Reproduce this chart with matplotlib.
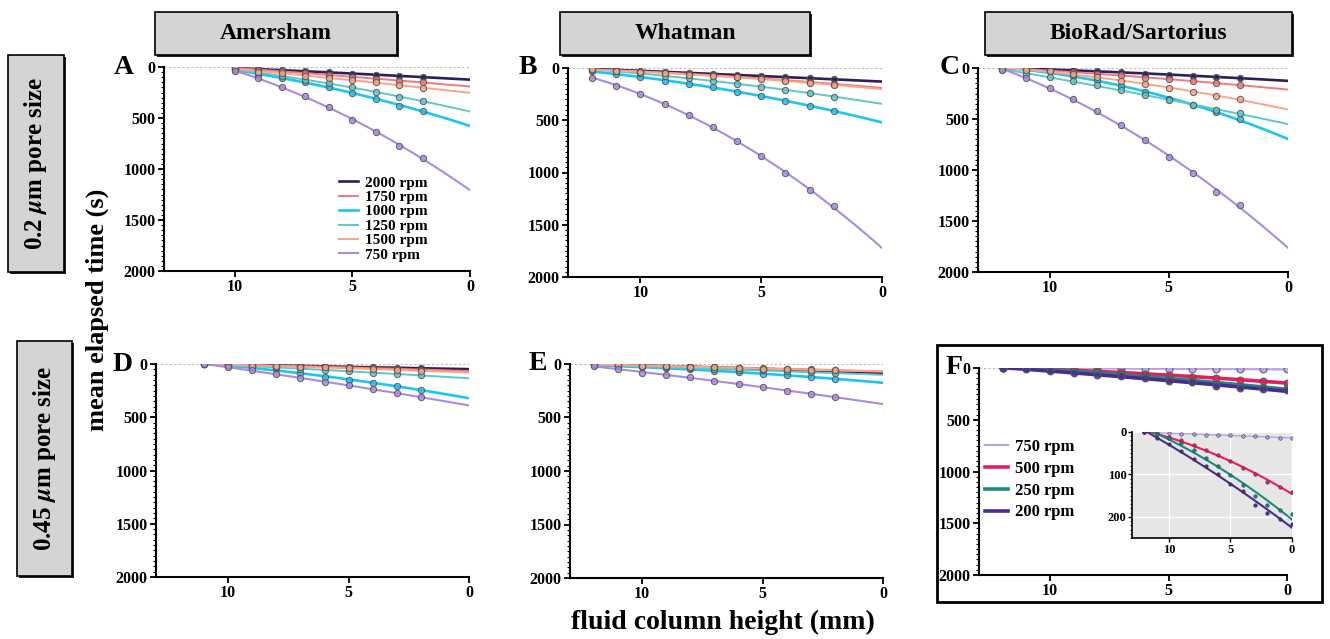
import numpy as np
import matplotlib.pyplot as plt
from matplotlib.patches import Rectangle
from matplotlib.ticker import MultipleLocator

plt.rcParams['font.family'] = ['Liberation Serif', 'DejaVu Serif']
plt.rcParams['font.weight'] = 'bold'
plt.rcParams['mathtext.fontset'] = 'stix'

W, H = 1330, 639

# series for panels A-E (legend order)
rpm_main = ['2000 rpm', '1750 rpm', '1000 rpm', '1250 rpm', '1500 rpm', '750 rpm']
col_main = ['#2d1e5c', '#f47a7a', '#1ec4f2', '#5ec8c8', '#fba586', '#a98be3']
lw_main = [1.9, 1.4, 1.9, 1.4, 1.4, 1.5]

# A: Amersham, 0.2 um
h_A = [10, 9, 8, 7, 6, 5, 4, 3, 2]
A_2000 = [10, 20, 33, 42, 52, 65, 75, 85, 101]
A_1750 = [10, 26, 42, 59, 75, 98, 118, 134, 150]
A_1000 = [26, 75, 108, 150, 196, 255, 314, 379, 432]
A_1250 = [20, 59, 92, 124, 157, 200, 245, 294, 334]
A_1500 = [13, 46, 59, 85, 108, 131, 150, 177, 206]
A_750 = [42, 108, 196, 288, 396, 517, 638, 772, 893]

# B: Whatman, 0.2 um
h_B = [12, 11, 10, 9, 8, 7, 6, 5, 4, 3, 2]
B_2000 = [10, 16, 25, 38, 48, 57, 67, 76, 86, 99, 108]
B_1750 = [10, 22, 35, 45, 57, 70, 83, 99, 114, 134, 153]
B_1000 = [32, 57, 89, 121, 153, 184, 226, 264, 312, 366, 410]
B_1250 = [19, 25, 51, 80, 95, 127, 153, 178, 210, 239, 273]
B_1500 = [13, 25, 38, 51, 64, 76, 89, 105, 121, 140, 165]
B_750 = [95, 169, 245, 343, 448, 569, 700, 846, 1008, 1170, 1323]

# C: BioRad/Sartorius, 0.2 um
h_C = [12, 11, 10, 9, 8, 7, 6, 5, 4, 3, 2]
C_2000 = [0, 7, 13, 20, 33, 43, 56, 66, 75, 89, 98]
C_1750 = [0, 10, 23, 39, 56, 72, 95, 112, 128, 148, 167]
C_1000 = [10, 16, 33, 75, 121, 174, 236, 302, 367, 436, 502]
C_1250 = [10, 56, 89, 131, 171, 220, 266, 312, 364, 410, 443]
C_1500 = [3, 16, 33, 56, 89, 125, 157, 197, 236, 272, 305]
C_750 = [16, 98, 197, 305, 426, 561, 705, 869, 1033, 1214, 1345]

# D: Amersham, 0.45 um
h_D = [11, 10, 9, 8, 7, 6, 5, 4, 3, 2]
D_2000 = [0, 3, 10, 13, 16, 23, 26, 32, 36, 39]
D_1750 = [0, 3, 10, 16, 19, 26, 32, 39, 45, 52]
D_1000 = [0, 16, 32, 48, 87, 123, 152, 178, 207, 242]
D_1250 = [0, 6, 23, 32, 45, 55, 68, 81, 94, 107]
D_1500 = [0, 6, 16, 23, 26, 32, 39, 48, 55, 65]
D_750 = [0, 32, 61, 97, 129, 168, 200, 239, 275, 310]

# E: Whatman, 0.45 um
h_E = [12, 11, 10, 9, 8, 7, 6, 5, 4, 3, 2]
E_2000 = [3, 10, 16, 19, 25, 32, 38, 45, 54, 60, 67]
E_1750 = [3, 10, 13, 19, 22, 29, 35, 38, 45, 51, 57]
E_1000 = [10, 22, 29, 41, 51, 64, 76, 89, 105, 121, 140]
E_1250 = [6, 16, 22, 29, 38, 45, 54, 60, 70, 76, 86]
E_1500 = [3, 10, 16, 19, 25, 32, 38, 45, 48, 54, 60]
E_750 = [22, 48, 80, 102, 124, 156, 188, 219, 251, 277, 308]

# F: BioRad/Sartorius, 0.45 um
rpm_F = ['750 rpm', '500 rpm', '250 rpm', '200 rpm']
col_F = ['#b9a0ea', '#ec1c5c', '#1a8c7c', '#4a2a90']
h_F = [12, 11, 10, 9, 8, 7, 6, 5, 4, 3, 2, 1, 0]
F_750 = [0, 2, 3, 5, 5, 6, 7, 8, 9, 10, 12, 13, 14]
F_500 = [0, 4, 12, 20, 31, 42, 55, 69, 85, 100, 118, 129, 141]
F_250 = [0, 4, 13, 26, 43, 61, 81, 102, 124, 151, 172, 183, 194]
F_200 = [0, 14, 29, 45, 63, 81, 100, 122, 140, 172, 191, 206, 216]


def px_box(l, t, r, b):
    return [l / W, 1 - b / H, (r - l) / W, (b - t) / H]


def style(ax):
    ax.set_xlim(13, 0)
    ax.set_ylim(2000, 0)
    for s in ['top', 'right']:
        ax.spines[s].set_visible(False)
    for s in ['left', 'bottom']:
        ax.spines[s].set_linewidth(1.5)
    ax.set_xticks([10, 5, 0])
    ax.set_yticks([0, 500, 1000, 1500, 2000])
    ax.yaxis.set_minor_locator(MultipleLocator(50))
    ax.tick_params(labelsize=11.5, width=1.3, length=4, pad=2)
    ax.tick_params(which='minor', length=2, width=0.8)
    ax.axhline(0, color='#bbbbbb', ls=(0, (2, 2)), lw=0.8, zorder=0)


def draw_series(ax, h, series, colors, lws, labels, ms=4.5):
    for t, c, lw, lab in zip(series, colors, lws, labels):
        coef = np.polyfit(h, t, 2)
        xx = np.linspace(h[0], 0, 100)
        ax.plot(xx, np.polyval(coef, xx), color=c, lw=lw, label=lab, zorder=2)
        ax.plot(h, t, 'o', ms=ms, mfc=c, mec='#555555', mew=0.8, alpha=0.85, zorder=3)


fig = plt.figure(figsize=(13.3, 6.39), dpi=100)

panels = [
    ('A', px_box(164, 67, 470, 271), -0.10, h_A, [A_2000, A_1750, A_1000, A_1250, A_1500, A_750]),
    ('B', px_box(568, 68, 882, 277), -0.10, h_B, [B_2000, B_1750, B_1000, B_1250, B_1500, B_750]),
    ('C', px_box(978, 68, 1288, 272), -0.06, h_C, [C_2000, C_1750, C_1000, C_1250, C_1500, C_750]),
    ('D', px_box(156, 364, 469, 577), -0.075, h_D, [D_2000, D_1750, D_1000, D_1250, D_1500, D_750]),
    ('E', px_box(570, 364, 883, 578), -0.075, h_E, [E_2000, E_1750, E_1000, E_1250, E_1500, E_750]),
]

axes = {}
for letter, pos, lx, h, series in panels:
    ax = fig.add_axes(pos)
    style(ax)
    draw_series(ax, h, series, col_main, lw_main, rpm_main)
    ax.text(lx, 1.0, letter, transform=ax.transAxes, fontsize=20,
            ha='right', va='center')
    axes[letter] = ax

axes['A'].legend(loc='lower right', bbox_to_anchor=(0.89, 0.0), frameon=False,
                 fontsize=11, handlelength=1.3, handletextpad=0.4,
                 labelspacing=0.05, borderaxespad=0.2)

# F
axF = fig.add_axes(px_box(979, 368, 1287, 575))
style(axF)
draw_series(axF, h_F, [F_750, F_500, F_250, F_200], col_F, [1.5, 2.6, 2.6, 2.6], rpm_F, ms=5)
axF.text(-0.055, 1.0, 'F', transform=axF.transAxes, fontsize=20, ha='right', va='center')
axF.legend(loc='upper left', bbox_to_anchor=(-0.03, 0.73), frameon=False, fontsize=12,
           handlelength=1.4, handletextpad=0.4, labelspacing=0.35)

# inset of F
axI = fig.add_axes(px_box(1132, 432, 1292, 538))
axI.set_facecolor('#e6e6e6')
axI.set_xlim(13, 0)
axI.set_ylim(250, 0)
for s in ['top', 'right']:
    axI.spines[s].set_visible(False)
for s in ['left', 'bottom']:
    axI.spines[s].set_linewidth(1.2)
axI.set_xticks([10, 5, 0])
axI.set_yticks([0, 100, 200])
axI.yaxis.set_minor_locator(MultipleLocator(10))
axI.grid(True, color='white', lw=1.0)
axI.set_axisbelow(True)
axI.tick_params(labelsize=9, width=1.0, length=3, pad=1)
axI.tick_params(which='minor', length=1.5, width=0.6)
for t, c, lw in zip([F_750, F_500, F_250, F_200], col_F, [1.0, 1.5, 1.5, 1.5]):
    coef = np.polyfit(h_F, t, 2)
    xx = np.linspace(h_F[0], 0, 100)
    axI.plot(xx, np.polyval(coef, xx), color=c, lw=lw)
    axI.plot(h_F, t, 'o', ms=2.5, color=c, mec='#333333', mew=0.4)

# frame around F
fig.add_artist(Rectangle((937 / W, 1 - 602 / H), 385 / W, 257 / H, transform=fig.transFigure,
                         fill=False, ec='black', lw=2))

# column headers
for text, (l, r) in zip(['Amersham', 'Whatman', 'BioRad/Sartorius'],
                        [(155, 397), (560, 810), (985, 1292)]):
    t, b = 12, 55
    fig.add_artist(Rectangle(((l + 2) / W, 1 - (b + 2) / H), (r - l) / W, (b - t) / H,
                             transform=fig.transFigure, fc='#222222', ec='none'))
    fig.add_artist(Rectangle((l / W, 1 - b / H), (r - l) / W, (b - t) / H,
                             transform=fig.transFigure, fc='#d4d4d4', ec='black', lw=1.2))
    fig.text((l + r) / 2 / W, 1 - (t + b) / 2 / H, text, ha='center', va='center', fontsize=17)

# row headers
for text, (l, t, r, b) in zip(['0.2 $\\mu$m pore size', '0.45 $\\mu$m pore size'],
                              [(8, 55, 64, 272), (17, 341, 72, 576)]):
    fig.add_artist(Rectangle(((l + 2) / W, 1 - (b + 2) / H), (r - l) / W, (b - t) / H,
                             transform=fig.transFigure, fc='#222222', ec='none'))
    fig.add_artist(Rectangle((l / W, 1 - b / H), (r - l) / W, (b - t) / H,
                             transform=fig.transFigure, fc='#d4d4d4', ec='black', lw=1.2))
    fig.text((l + r) / 2 / W, 1 - (t + b) / 2 / H, text, ha='center', va='center',
             fontsize=18, rotation=90)

fig.text(97 / W, 1 - 310 / H, 'mean elapsed time (s)', rotation=90, ha='center',
         va='center', fontsize=19)
fig.text(723 / W, 1 - 622 / H, 'fluid column height (mm)', ha='center', va='center',
         fontsize=20)

fig.savefig('out.png', dpi=100)
